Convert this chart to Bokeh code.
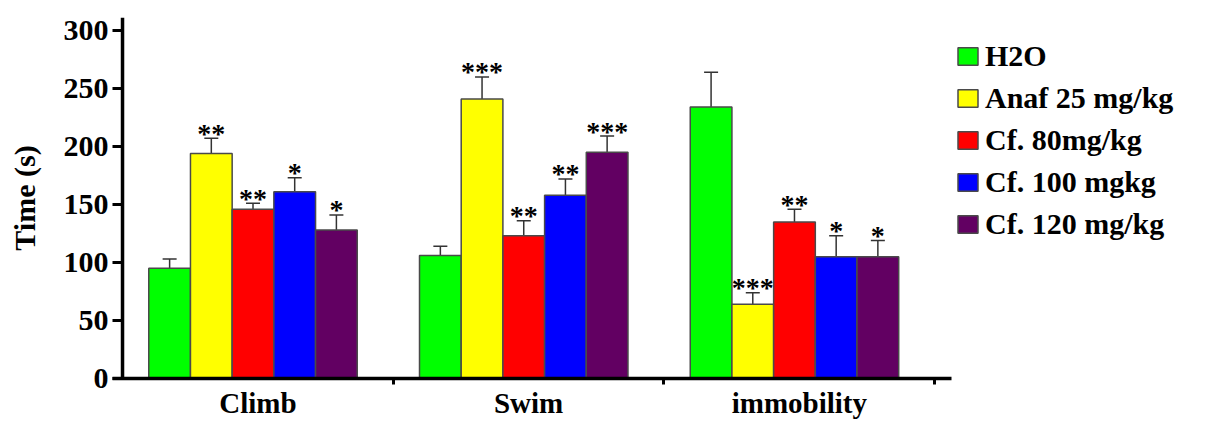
from bokeh.plotting import figure
from bokeh.models import (ColumnDataSource, Whisker, TeeHead, Span, FixedTicker,
                          Legend, LegendItem, Range1d)
from bokeh.core.properties import value
from bokeh.embed import file_html
from bokeh.resources import INLINE

# ---- data ----
categories = ["Climb", "Swim", "immobility"]
series = ["H2O", "Anaf 25 mg/kg", "Cf. 80mg/kg", "Cf. 100 mgkg", "Cf. 120 mg/kg"]
colors = ["#00ff00", "#ffff00", "#ff0000", "#0000ff", "#620062"]

h2o_mean = [95, 106, 234]
h2o_err = [8, 8, 30]
anaf_mean = [194, 241, 64]
anaf_err = [13, 19, 10]
cf80_mean = [146, 123, 135]
cf80_err = [5, 13, 11]
cf100_mean = [161, 158, 105]
cf100_err = [12, 14, 18]
cf120_mean = [128, 195, 105]
cf120_err = [13, 14, 14]

h2o_sig = ["", "", ""]
anaf_sig = ["**", "***", "***"]
cf80_sig = ["**", "**", "**"]
cf100_sig = ["*", "**", "*"]
cf120_sig = ["*", "***", "*"]

y_ticks = [0, 50, 100, 150, 200, 250, 300]

means = [h2o_mean, anaf_mean, cf80_mean, cf100_mean, cf120_mean]
errs = [h2o_err, anaf_err, cf80_err, cf100_err, cf120_err]
sigs = [h2o_sig, anaf_sig, cf80_sig, cf100_sig, cf120_sig]

# ---- layout / style ----
FONT = "Liberation Serif"
group_start = 0.097
bar_w = 0.154

p = figure(frame_width=839, frame_height=361, output_backend="svg", toolbar_location=None,
           x_range=Range1d(-0.037, 3.062), y_range=Range1d(0, 311.2),
           min_border_left=112, min_border_right=0, min_border_top=17,
           min_border_bottom=0)
p.outline_line_color = None
p.xgrid.visible = False
p.ygrid.visible = False
p.background_fill_color = "white"

renderers = []
for j, name in enumerate(series):
    xs = [i + group_start + bar_w * (j + 0.5) for i in range(len(categories))]
    src = ColumnDataSource(dict(
        x=xs, top=means[j],
        upper=[m + e for m, e in zip(means[j], errs[j])],
        lower=[m - e for m, e in zip(means[j], errs[j])],
        sig=sigs[j]))
    r = p.vbar(x="x", top="top", bottom=0, width=bar_w, source=src,
               fill_color=colors[j], line_color="#4a4a4a", line_width=1.5)
    renderers.append((name, r))
    w = Whisker(base="x", upper="upper", lower="lower", source=src,
                line_color="#333333", line_width=1.5,
                upper_head=TeeHead(size=14, line_color="#333333", line_width=1.5),
                lower_head=TeeHead(size=14, line_color="#333333", line_width=1.5))
    p.add_layout(w)
    p.text(x="x", y="upper", text="sig", source=src, text_align="center",
           text_baseline="alphabetic", y_offset=-5,
           text_font=value(FONT), text_font_style="bold",
           text_font_size="28px", text_color="black")

# y axis: line drawn as span at x=0
p.yaxis.ticker = FixedTicker(ticks=y_ticks)
p.yaxis.axis_line_color = None
p.yaxis.major_tick_in = 10
p.yaxis.major_tick_out = 0
p.yaxis.minor_tick_line_color = None
p.yaxis.major_tick_line_width = 3
p.yaxis.major_tick_line_color = "black"
p.yaxis.major_label_standoff = 4
p.yaxis.major_label_text_font = FONT
p.yaxis.major_label_text_font_style = "bold"
p.yaxis.major_label_text_font_size = "30px"
p.yaxis.major_label_text_color = "black"
p.yaxis.axis_label = "Time (s)"
p.yaxis.axis_label_text_font = FONT
p.yaxis.axis_label_text_font_style = "bold"
p.yaxis.axis_label_text_font_size = "30px"
p.yaxis.axis_label_text_color = "black"
p.yaxis.axis_label_standoff = 20

p.add_layout(Span(location=0, dimension="height", line_color="black", line_width=3.5))

# x axis
p.xaxis.ticker = FixedTicker(ticks=[i + 0.5 for i in range(len(categories))],
                             minor_ticks=[i + 1 for i in range(len(categories))])
p.xaxis.major_label_overrides = {i + 0.5: c for i, c in enumerate(categories)}
p.xaxis.major_tick_line_color = None
p.xaxis.major_tick_out = 0
p.xaxis.minor_tick_out = 6
p.xaxis.minor_tick_in = 0
p.xaxis.minor_tick_line_width = 3
p.xaxis.minor_tick_line_color = "black"
p.xaxis.axis_line_width = 3.5
p.xaxis.axis_line_color = "black"
p.xaxis.major_label_standoff = 2
p.xaxis.major_label_text_font = FONT
p.xaxis.major_label_text_font_style = "bold"
p.xaxis.major_label_text_font_size = "29px"
p.xaxis.major_label_text_color = "black"

legend = Legend(items=[LegendItem(label=n, renderers=[r]) for n, r in renderers],
                location=(4, 137), margin=0, padding=8, spacing=8,
                glyph_width=25, glyph_height=22, label_height=34, label_standoff=5,
                label_text_font=FONT, label_text_font_style="bold",
                label_text_font_size="30px", label_text_color="black",
                border_line_color=None, background_fill_alpha=0)
p.add_layout(legend, "right")

open("out.html", "w").write(file_html(p, INLINE))
